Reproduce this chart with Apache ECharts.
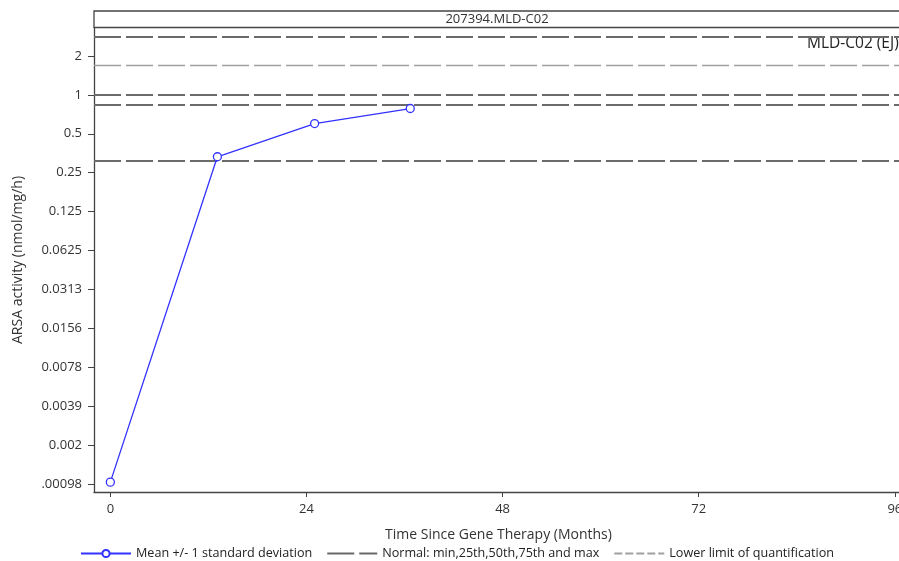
<!DOCTYPE html>
<html>
<head>
<meta charset="utf-8">
<script src="https://cdn.jsdelivr.net/npm/echarts/dist/echarts.min.js"></script>
<style>
html,body{margin:0;padding:0;background:#fff;overflow:hidden;}
#chart{width:899px;height:561px;}
</style>
</head>
<body>
<div id="chart"></div>
<script>
// ---- data ----
const panelTitle = '207394.MLD-C02';
const refLabel = 'MLD-C02 (EJ)';
const months = [0, 13.1, 25, 36.7];
const meanValues = [0.00101, 0.332, 0.600, 0.784];
const normalDark = [2.83, 1.0, 0.841, 0.311];
const normalLight = [1.69];
const lloq = [0.00321];
const xTicks = [0, 24, 48, 72, 96];
const yTickValues = [2, 1, 0.5, 0.25, 0.125, 0.0625, 0.03125, 0.015625, 0.0078125, 0.00390625, 0.001953125, 0.0009765625];
const yTickLabels = ['2', '1', '0.5', '0.25', '0.125', '0.0625', '0.0313', '0.0156', '0.0078', '0.0039', '0.002', '.00098'];
const seriesNames = ['Mean +/- 1 standard deviation', 'Normal: min,25th,50th,75th and max', 'Lower limit of quantification'];

const FONT = 'Open Sans';
const chart = echarts.init(document.getElementById('chart'));

const meanData = months.map((m, i) => [m, meanValues[i]]);
const darkStyle = {color: '#6a6a6a', width: 2, type: [27, 5]};
const lightStyle = {color: '#a0a0a0', width: 1.3, type: [27, 5]};
const lloqStyle = {color: '#a0a0a0', width: 1.3, type: [8, 3]};

function labelFor(v) {
  let best = 0, bd = Infinity;
  yTickValues.forEach((t, i) => { const d = Math.abs(Math.log2(t) - Math.log2(v)); if (d < bd) { bd = d; best = i; } });
  return yTickLabels[best];
}

const option = {
  animation: false,
  textStyle: {fontFamily: FONT},
  grid: {left: 94, top: 28, width: 809, bottom: 69, containLabel: false, outerBoundsMode: 'none'},
  graphic: [
    {type: 'rect', shape: {x: 94, y: 11, width: 809, height: 16.5}, style: {fill: 'none', stroke: '#444', lineWidth: 1.3}, silent: true},
    {type: 'text', x: 497, y: 19.5, style: {text: panelTitle, fill: '#333', font: '13px "Open Sans"', align: 'center', verticalAlign: 'middle'}, silent: true},
    {type: 'text', x: 807, y: 44, style: {text: refLabel, fill: '#222', font: '15.5px "Open Sans"', align: 'left', verticalAlign: 'middle'}, silent: true}
  ],
  xAxis: {
    type: 'value', min: -2, max: 97,
    name: 'Time Since Gene Therapy (Months)', nameLocation: 'middle', nameGap: 36,
    nameTextStyle: {fontSize: 14, color: '#333', fontFamily: FONT},
    axisLine: {show: true, onZero: false, lineStyle: {color: '#444', width: 1.3}},
    axisTick: {show: true, length: 5, customValues: xTicks, lineStyle: {color: '#444'}},
    axisLabel: {customValues: xTicks, fontSize: 13, color: '#333', margin: 11, fontFamily: FONT},
    splitLine: {show: false}
  },
  yAxis: {
    type: 'log', logBase: 2,
    min: Math.pow(2, -10.205), max: Math.pow(2, 1.718),
    name: 'ARSA activity (nmol/mg/h)', nameLocation: 'middle', nameGap: 69, nameRotate: 90,
    nameTextStyle: {fontSize: 14, color: '#333', fontFamily: FONT},
    axisLine: {show: true, onZero: false, lineStyle: {color: '#444', width: 1.3}},
    axisTick: {show: true, length: 6, customValues: yTickValues, lineStyle: {color: '#444'}},
    axisLabel: {customValues: yTickValues, fontSize: 13, color: '#333', margin: 12, fontFamily: FONT, formatter: labelFor},
    splitLine: {show: false}, minorTick: {show: false}
  },
  legend: {
    top: 547, left: 80, padding: 0, itemWidth: 50, itemHeight: 9, itemGap: 14,
    textStyle: {fontSize: 12.6, color: '#222', fontFamily: FONT},
    data: [
      {name: seriesNames[0]},
      {name: seriesNames[1], itemStyle: {opacity: 0}},
      {name: seriesNames[2], itemStyle: {opacity: 0}}
    ]
  },
  series: [
    {
      name: seriesNames[0], type: 'line', data: meanData,
      symbol: 'circle', symbolSize: 8,
      itemStyle: {color: '#ffffff', borderColor: '#3232ff', borderWidth: 1.3},
      lineStyle: {color: '#3232ff', width: 1.3}, z: 5
    },
    {
      name: seriesNames[1], type: 'line', data: [], symbol: 'none',
      lineStyle: darkStyle, itemStyle: {color: '#6a6a6a'},
      markLine: {
        silent: true, symbol: 'none', label: {show: false},
        data: normalDark.map(v => ({yAxis: v, lineStyle: darkStyle}))
          .concat(normalLight.map(v => ({yAxis: v, lineStyle: lightStyle})))
      }
    },
    {
      name: seriesNames[2], type: 'line', data: [], symbol: 'none',
      lineStyle: lloqStyle, itemStyle: {color: '#a0a0a0'},
      markLine: {
        silent: true, symbol: 'none', label: {show: false},
        data: lloq.map(v => ({yAxis: v, lineStyle: lloqStyle}))
      }
    }
  ]
};
chart.setOption(option);
</script>
</body>
</html>
